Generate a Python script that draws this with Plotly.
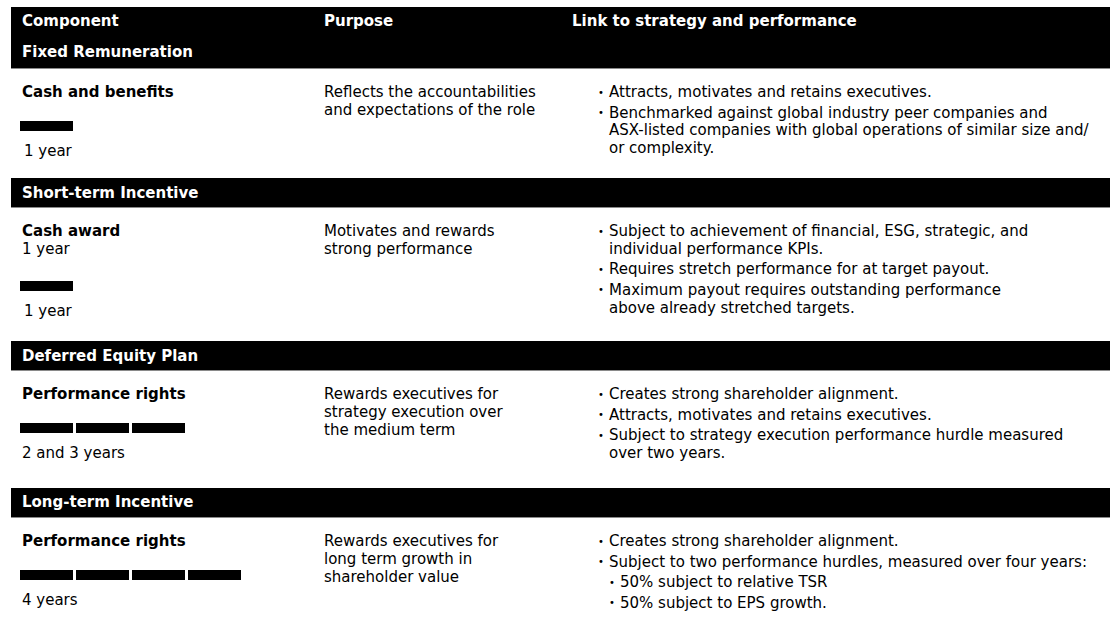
import plotly.graph_objects as go

# ---------------- data ----------------
headers = ["Component", "Purpose", "Link to strategy and performance"]
sections = ["Fixed Remuneration", "Short-term Incentive", "Deferred Equity Plan", "Long-term Incentive"]
components = ["Cash and benefits", "Cash award", "Performance rights", "Performance rights"]
component_sub = ["", "1 year", "", ""]
vesting_segments = [1, 1, 3, 4]
vesting_labels = ["1 year", "1 year", "2 and 3 years", "4 years"]
purposes = [
    ["Reflects the accountabilities", "and expectations of the role"],
    ["Motivates and rewards", "strong performance"],
    ["Rewards executives for", "strategy execution over", "the medium term"],
    ["Rewards executives for", "long term growth in", "shareholder value"],
]
links = [
    [(1, ["Attracts, motivates and retains executives."]),
     (1, ["Benchmarked against global industry peer companies and",
          "ASX-listed companies with global operations of similar size and/",
          "or complexity."])],
    [(1, ["Subject to achievement of financial, ESG, strategic, and",
          "individual performance KPIs."]),
     (1, ["Requires stretch performance for at target payout."]),
     (1, ["Maximum payout requires outstanding performance",
          "above already stretched targets."])],
    [(1, ["Creates strong shareholder alignment."]),
     (1, ["Attracts, motivates and retains executives."]),
     (1, ["Subject to strategy execution performance hurdle measured",
          "over two years."])],
    [(1, ["Creates strong shareholder alignment."]),
     (1, ["Subject to two performance hurdles, measured over four years:"]),
     (2, ["50% subject to relative TSR"]),
     (2, ["50% subject to EPS growth."])],
]

# ---------------- layout constants ----------------
W, H = 1110, 625
FONT = "Verdana, DejaVu Sans, sans-serif"
FS = 15
BAND_TOPS = [7, 178, 341, 488]
BAND_BOTS = [68, 207, 370, 517]
SECTION_Y = [52, 193, 356, 502]
COL_X = [20, 322, 570]
BULLET_X = {1: 596, 2: 607}
BTEXT_X = {1: 607, 2: 618}
LINE_H = 17.8
BULLET_GAP = 2.7
SEG_W, SEG_GAP, SEG_H = 53, 3, 10

shapes = []
ann = []

def txt(x, y, s, bold=False, color="black", size=FS):
    ann.append(dict(x=x, y=y, xref="x", yref="y", text=("<b>%s</b>" % s) if bold else s,
                    showarrow=False, xanchor="left", yanchor="middle",
                    font=dict(family=FONT, size=size, color=color)))

for i in range(4):
    shapes.append(dict(type="rect", xref="x", yref="y", x0=11, x1=W + 20, y0=BAND_TOPS[i], y1=BAND_BOTS[i],
                       fillcolor="black", line=dict(width=0), layer="below"))
    shapes.append(dict(type="line", xref="x", yref="y", x0=11, x1=W + 20, y0=BAND_BOTS[i] + 0.5,
                       y1=BAND_BOTS[i] + 0.5, line=dict(color="#8a8a8a", width=1)))

for j, h in enumerate(headers):
    txt(COL_X[j], 20.5, h, bold=True, color="white")
for i, s in enumerate(sections):
    txt(COL_X[0], SECTION_Y[i], s, bold=True, color="white")

for i in range(4):
    y0 = BAND_BOTS[i] + 24
    txt(COL_X[0], y0, components[i], bold=True)
    if component_sub[i]:
        txt(COL_X[0], y0 + 17.5, component_sub[i])
        bar_y = y0 + 55
    else:
        bar_y = y0 + 34
    for k in range(vesting_segments[i]):
        x0 = COL_X[0] + k * (SEG_W + SEG_GAP)
        shapes.append(dict(type="rect", xref="x", yref="y", x0=x0, x1=x0 + SEG_W,
                           y0=bar_y - SEG_H / 2, y1=bar_y + SEG_H / 2,
                           fillcolor="black", line=dict(width=0)))
    lx = COL_X[0] + (2 if vesting_segments[i] == 1 else 0)
    txt(lx, bar_y + 25, vesting_labels[i])
    for k, line in enumerate(purposes[i]):
        txt(COL_X[1], y0 + k * LINE_H, line)
    y = y0
    for level, lines in links[i]:
        txt(BULLET_X[level], y, "•", size=10)
        for line in lines:
            txt(BTEXT_X[level], y, line)
            y += LINE_H
        y += BULLET_GAP

fig = go.Figure()
fig.update_layout(
    width=W, height=H, margin=dict(l=0, r=0, t=0, b=0),
    paper_bgcolor="white", plot_bgcolor="white",
    xaxis=dict(range=[0, W], visible=False, fixedrange=True),
    yaxis=dict(range=[H, 0], visible=False, fixedrange=True),
    shapes=shapes, annotations=ann, showlegend=False,
)
fig.write_html(
    "out.html",
    config={"displayModeBar": False},
    post_script="document.body.style.margin='0';document.body.style.overflow='hidden';"
                "Plotly.relayout('{plot_id}', {width: %d, height: %d});" % (W, H),
)
